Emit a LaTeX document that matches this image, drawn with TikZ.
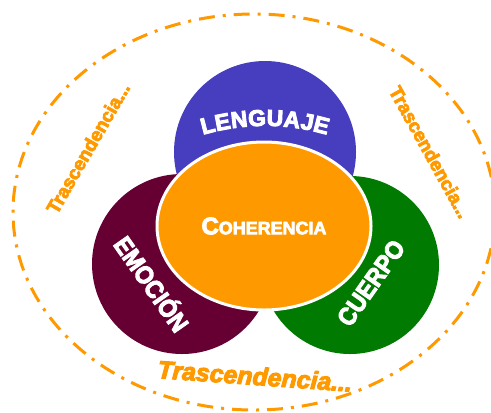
\documentclass[tikz,border=0pt]{standalone}
\usepackage{fontspec}
\setmainfont{Liberation Sans}
\newfontfamily\heavyfont[FakeBold=4]{Liberation Sans Bold}
\newfontfamily\heavyitfont[FakeBold=4]{Liberation Sans Bold Italic}
\usetikzlibrary{shapes.geometric}

\definecolor{lenguajeblue}{RGB}{70,62,190}
\definecolor{emocionwine}{RGB}{102,0,51}
\definecolor{cuerpogreen}{RGB}{0,122,0}
\definecolor{coherorange}{RGB}{255,153,0}

\begin{document}
\begin{tikzpicture}[x=1bp, y=-1bp,
    circ/.style={circle, minimum size=182bp, inner sep=0pt},
    word/.style={text=white, inner sep=0pt, font=\heavyfont\fontsize{23}{23}\selectfont},
    trasc/.style={text=coherorange, font=\heavyfont\fontsize{19}{19}\selectfont}]

    \useasboundingbox (0,0) rectangle (491,412);

    % Outer ring
    \draw[coherorange, line width=3bp, dash pattern=on 16bp off 8bp on 3bp off 8bp]
        (254,212) ellipse [x radius=241bp, y radius=198bp];

    % Circles
    \node (lenguaje) [circ, fill=lenguajeblue] at (265,152) {};
    \node (emocion) [circ, fill=emocionwine, minimum size=180bp] at (182,264) {};
    \node (cuerpo) [circ, fill=cuerpogreen, minimum size=178bp] at (350,265) {};
    \node (coherencia) [ellipse, fill=coherorange, draw=white, line width=3bp,
        minimum width=214bp, minimum height=168bp] at (264,226)
        {\textcolor{white}{\heavyfont\fontsize{24}{24}\selectfont C\fontsize{18}{18}\selectfont OHERENCIA}};

    % Labels
    \coordinate (arccenter) at (265,347);
    \foreach \ch/\a [count=\i] in {L/104.5, E/100.7, N/96.5, G/92.0, U/87.5, A/83.2, J/79.3, E/75.7}
        \node (lg\i) [word, rotate=\a-90] at ([shift={(\a:229bp)}]arccenter) {\ch};
    \node (emociontxt) [word, rotate=-55, yscale=1.1] at (153,283) {EMOCIÓN};
    \node (cuerpotxt) [word, rotate=55, yscale=1.1] at (371,283) {CUERPO};

    \node (trascleft) [trasc, rotate=60] at (88,148) {Trascendencia...};
    \node (trascright) [trasc, rotate=-61] at (430,152) {Trascendencia...};
    \node (trascbottom) [trasc, rotate=-4, font=\heavyitfont\fontsize{25}{25}\selectfont]
        at (255,376) {Trascendencia...};

\end{tikzpicture}
\end{document}
